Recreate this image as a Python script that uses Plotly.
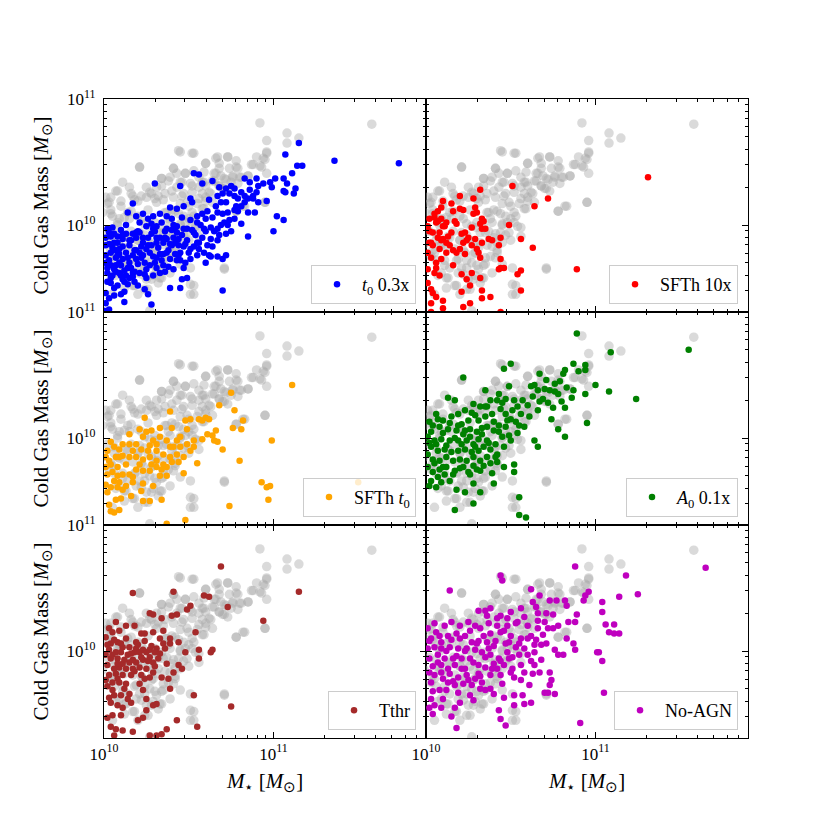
import plotly.graph_objects as go
from plotly.subplots import make_subplots

# (log10 M_star, log10 M_cold) pairs

# reference run (grey circles, repeated in every panel)
reference = [
    (10.92, 10.81), (11.58, 10.80), (11.08, 10.73), (11.15, 10.69), (10.96, 10.67),
    (11.08, 10.65), (10.44, 10.59), (10.53, 10.57), (10.21, 10.46), (10.66, 10.53),
    (10.73, 10.54), (10.68, 10.49), (10.90, 10.54), (10.95, 10.52), (10.96, 10.57),
    (10.88, 10.48), (10.93, 10.46), (10.96, 10.41), (10.60, 10.49), (10.78, 10.46),
    (10.85, 10.39), (10.80, 10.38), (10.76, 10.39), (10.75, 10.34), (10.68, 10.31),
    (10.69, 10.39), (10.66, 10.41), (10.64, 10.35), (10.58, 10.34), (10.56, 10.38),
    (10.48, 10.41), (10.43, 10.41), (10.41, 10.45), (10.39, 10.38), (10.34, 10.37),
    (10.34, 10.31), (10.45, 10.34), (10.52, 10.31), (10.46, 10.23), (10.40, 10.27),
    (10.32, 10.23), (10.27, 10.26), (10.22, 10.23), (10.17, 10.23), (10.08, 10.27),
    (10.03, 10.18), (10.49, 10.18), (10.56, 10.21), (10.60, 10.22), (10.64, 10.18),
    (10.82, 10.15), (10.78, 10.11), (10.95, 10.18), (10.58, 10.13), (10.52, 10.10),
    (10.44, 10.09), (10.36, 10.10), (10.31, 10.18), (10.48, 10.02), (10.54, 9.99),
    (10.44, 9.94), (10.40, 9.90), (10.36, 9.84), (10.42, 9.86), (10.32, 9.86),
    (10.29, 9.78), (10.23, 9.78), (10.19, 9.73), (10.17, 9.81), (10.13, 9.91),
    (10.09, 9.84), (10.05, 9.78), (10.11, 9.72), (10.21, 9.66), (10.27, 9.70),
    (10.31, 9.65), (10.34, 9.58), (10.32, 9.54), (10.25, 9.57), (10.26, 9.49),
    (10.17, 9.52), (10.13, 9.58), (10.09, 9.62), (10.71, 9.65), (10.53, 9.52),
    (10.51, 9.45), (10.27, 9.32), (10.34, 9.99), (10.38, 10.05), (10.27, 9.99),
    (10.21, 9.94), (10.15, 10.05), (10.09, 10.05), (10.05, 10.07), (10.56, 9.91),
    (10.60, 10.31), (10.62, 10.26), (10.71, 10.29), (10.72, 10.36),
    (10.02, 9.95), (10.04, 10.12), (10.06, 9.88), (10.08, 10.00), (10.10, 10.15),
    (10.12, 9.82), (10.14, 10.10), (10.16, 9.95), (10.18, 10.20), (10.20, 9.88),
    (10.22, 10.05), (10.24, 9.92), (10.26, 10.12), (10.28, 9.85), (10.30, 10.02),
    (10.32, 9.94), (10.11, 9.68), (10.19, 9.62), (10.24, 9.72), (10.29, 9.60),
    (10.34, 9.68), (10.38, 9.75), (10.42, 9.80), (10.03, 9.75), (10.07, 9.60),
    (10.01, 10.22), (10.15, 10.30), (10.25, 10.30), (10.35, 10.20), (10.37, 9.95),
    (10.40, 10.12), (10.45, 10.00), (10.50, 10.05), (10.47, 9.92), (10.12, 9.50),
    (10.20, 9.45), (10.05, 9.45), (9.99, 10.10), (9.99, 9.85),
    (10.45, 10.58), (10.52, 10.57), (10.67, 10.54), (10.73, 10.54), (10.60, 10.49),
    (10.78, 10.51), (10.87, 10.48), (10.92, 10.47), (10.96, 10.58), (10.94, 10.53),
    (10.21, 10.46), (10.41, 10.45), (10.48, 10.41), (10.53, 10.43), (10.59, 10.42),
    (10.65, 10.41), (10.68, 10.45), (10.74, 10.45), (10.79, 10.45), (10.81, 10.38),
    (10.85, 10.39), (10.76, 10.38), (10.71, 10.37), (10.65, 10.35), (10.59, 10.34),
    (10.56, 10.30), (10.51, 10.33), (10.46, 10.34), (10.43, 10.30), (10.38, 10.35),
    (10.34, 10.37), (10.31, 10.30), (10.36, 10.25), (10.41, 10.22), (10.47, 10.25),
    (10.52, 10.26), (10.58, 10.25), (10.63, 10.25), (10.68, 10.31), (10.70, 10.29),
    (10.73, 10.27), (10.79, 10.33), (10.83, 10.15), (10.78, 10.11), (10.95, 10.18),
    (10.16, 10.25), (10.10, 10.19), (10.07, 10.27), (10.04, 10.22), (10.20, 10.19),
    (10.25, 10.22), (10.30, 10.21), (10.45, 10.17), (10.50, 10.15), (10.55, 10.17),
    (10.60, 10.19), (10.59, 10.13), (10.53, 10.07), (10.47, 10.07), (10.42, 10.11),
    (10.37, 10.10), (10.39, 10.02), (10.45, 10.01), (10.52, 10.02), (10.56, 9.98),
    (10.49, 9.94), (10.41, 9.93), (10.35, 9.94), (10.30, 9.98), (10.24, 10.01),
    (10.20, 10.07), (10.16, 10.11), (10.12, 10.06), (10.08, 10.02), (10.06, 9.93),
    (10.14, 9.90), (10.20, 9.88), (10.26, 9.88), (10.31, 9.82), (10.39, 9.83),
    (10.45, 9.86), (10.50, 9.88), (10.42, 9.78), (10.35, 9.74), (10.28, 9.77),
    (10.22, 9.80), (10.18, 9.72), (10.24, 9.66), (10.30, 9.68), (10.35, 9.69),
    (10.41, 9.74), (10.45, 9.69), (10.51, 9.66), (10.39, 9.62), (10.33, 9.58),
    (10.28, 9.57), (10.22, 9.61), (10.12, 9.58), (10.14, 9.66), (10.18, 9.52),
    (10.24, 9.49), (10.51, 9.53), (10.53, 9.45), (10.71, 9.66), (10.04, 9.80),
    (10.06, 9.72), (10.08, 9.85), (10.04, 10.09), (10.02, 10.17), (10.11, 10.34),
    (10.28, 10.25),
]

t0_03x = [
    (11.15, 10.65), (11.36, 10.51), (11.74, 10.49), (11.07, 10.56), (11.14, 10.47),
    (11.17, 10.47), (11.11, 10.41), (11.06, 10.37), (11.08, 10.33), (11.13, 10.29),
    (11.06, 10.27), (11.07, 10.26), (11.12, 10.25), (10.98, 10.34), (10.99, 10.30),
    (11.01, 10.37), (10.94, 10.33), (10.83, 10.37), (10.86, 10.34), (10.90, 10.37),
    (10.91, 10.31), (10.90, 10.26), (10.88, 10.21), (10.91, 10.18), (10.88, 10.23),
    (10.85, 10.21), (10.83, 10.23), (10.83, 10.18), (10.79, 10.21), (10.81, 10.15),
    (10.77, 10.23), (10.77, 10.29), (10.74, 10.25), (10.72, 10.29), (10.75, 10.31),
    (10.68, 10.30), (10.67, 10.23), (10.69, 10.18), (10.72, 10.18), (10.64, 10.35),
    (10.58, 10.33), (10.53, 10.41), (10.56, 10.40), (10.45, 10.31), (10.30, 10.33),
    (10.51, 10.21), (10.52, 10.18), (10.47, 10.15), (10.43, 10.13), (10.39, 10.14),
    (10.37, 10.07), (10.33, 10.09), (10.29, 10.07), (10.23, 10.09), (10.19, 10.07),
    (10.14, 10.10), (10.17, 10.17), (10.21, 10.02), (10.25, 9.99), (10.31, 9.99),
    (10.37, 9.97), (10.43, 9.94), (10.49, 9.97), (10.55, 10.02), (10.61, 10.11),
    (10.67, 10.10), (10.73, 10.10), (10.79, 10.11), (10.85, 10.10), (10.89, 10.10),
    (10.96, 10.19), (11.02, 10.07), (11.06, 10.04), (11.00, 9.95), (10.85, 9.91),
    (10.81, 10.01), (10.77, 10.05), (10.71, 10.02), (10.67, 9.97), (10.72, 9.93),
    (10.67, 9.88), (10.63, 9.89), (10.61, 9.84), (10.55, 9.86), (10.51, 9.81),
    (10.48, 9.85), (10.44, 9.89), (10.40, 9.84), (10.35, 9.86), (10.31, 9.90),
    (10.28, 9.84), (10.23, 9.86), (10.19, 9.90), (10.15, 9.84), (10.11, 9.89),
    (10.08, 9.86), (10.04, 9.91), (10.02, 9.97), (10.05, 9.98), (10.01, 9.84),
    (10.04, 9.78), (10.08, 9.76), (10.11, 9.73), (10.15, 9.70), (10.19, 9.73),
    (10.23, 9.76), (10.27, 9.68), (10.31, 9.66), (10.35, 9.68), (10.39, 9.73),
    (10.43, 9.72), (10.47, 9.66), (10.51, 9.73), (10.55, 9.76), (10.59, 9.78),
    (10.63, 9.75), (10.67, 9.75), (10.70, 9.73), (10.72, 9.76), (10.62, 9.76),
    (10.45, 9.78), (10.41, 9.65), (10.29, 9.60), (10.25, 9.58), (10.21, 9.62),
    (10.17, 9.62), (10.13, 9.60), (10.09, 9.62), (10.06, 9.65), (10.02, 9.66),
    (10.04, 9.54), (10.08, 9.52), (10.11, 9.57), (10.15, 9.58), (10.01, 9.46),
    (10.03, 9.42), (10.06, 9.44), (10.01, 9.38), (10.03, 9.33), (10.00, 9.32),
    (10.12, 9.39), (10.28, 9.37), (10.24, 9.49), (10.39, 9.50), (10.45, 9.50),
    (10.49, 9.58), (10.46, 9.57), (10.70, 9.48), (10.28, 10.01), (10.34, 10.02),
    (10.40, 10.05), (10.46, 10.06), (10.59, 9.97), (10.53, 9.94), (10.43, 9.99),
    (10.37, 9.89), (10.21, 9.94), (10.25, 9.81), (10.17, 9.76), (10.09, 9.81),
    (10.07, 9.68), (10.10, 9.68), (10.33, 9.77), (10.37, 9.78), (10.42, 9.77),
    (10.50, 9.78), (10.56, 9.81), (10.44, 9.84), (10.64, 10.06), (10.58, 10.09),
    (10.55, 10.07), (10.03, 9.72), (10.05, 9.60), (10.07, 9.80), (10.09, 9.70),
    (10.12, 9.64), (10.13, 9.78), (10.16, 9.66), (10.18, 9.80), (10.20, 9.69),
    (10.22, 9.83), (10.24, 9.70), (10.26, 9.90), (10.29, 9.75), (10.32, 9.82),
    (10.34, 9.72), (10.36, 9.95), (10.38, 9.80), (10.41, 9.90), (10.42, 9.98),
    (10.46, 9.92), (10.02, 9.55), (10.06, 9.50), (10.10, 9.45), (10.14, 9.53),
    (10.18, 9.55), (10.01, 9.90), (10.06, 9.93), (10.10, 9.96), (10.13, 10.00),
    (10.17, 9.93), (10.26, 10.05), (10.30, 9.95), (10.48, 9.70), (10.53, 9.83),
    (10.58, 9.90), (10.60, 9.70), (10.65, 9.95), (10.69, 10.00), (10.75, 9.95),
    (10.62, 10.20), (10.70, 10.25),
    (10.02, 9.62), (10.04, 9.68), (10.05, 9.82), (10.07, 9.74), (10.08, 9.91),
    (10.10, 9.60), (10.11, 9.83), (10.13, 9.93), (10.14, 9.66), (10.16, 9.88),
    (10.17, 9.59), (10.19, 9.80), (10.20, 9.95), (10.22, 9.74), (10.23, 9.90),
    (10.25, 9.65), (10.27, 9.78), (10.28, 9.93), (10.30, 9.70), (10.31, 9.86),
    (10.33, 9.62), (10.35, 9.77), (10.36, 9.90), (10.38, 9.67), (10.40, 9.96),
    (10.42, 9.86), (10.44, 9.76), (10.47, 9.97), (10.49, 9.88), (10.51, 10.04),
    (10.54, 9.92), (10.57, 10.00), (10.60, 10.05), (10.63, 9.98), (10.66, 10.15),
    (10.70, 10.09), (10.74, 10.04), (10.78, 10.15), (10.81, 10.26), (10.86, 10.28),
    (10.01, 9.70), (10.03, 9.85), (10.12, 9.47), (10.20, 9.52), (10.26, 9.45),
    (10.01, 9.76), (10.03, 9.94), (10.04, 9.58), (10.06, 9.86), (10.07, 9.63),
    (10.09, 9.77), (10.11, 9.92), (10.12, 9.55), (10.14, 9.74), (10.15, 9.88),
    (10.18, 9.63), (10.19, 9.94), (10.21, 9.78), (10.24, 9.61), (10.26, 9.84),
    (10.29, 9.97), (10.31, 9.74), (10.33, 9.90), (10.36, 9.63), (10.39, 9.85),
    (10.41, 10.00), (10.45, 9.72), (10.47, 9.83), (10.52, 9.96), (10.56, 9.86),
    (10.60, 9.95), (10.64, 9.83), (10.68, 9.92), (10.73, 10.00), (10.77, 10.12),
]

sfth_10x = [
    (11.31, 10.38), (10.51, 10.31), (10.72, 10.21), (10.64, 10.15), (10.49, 10.00),
    (10.56, 9.89), (10.63, 9.82), (10.89, 9.65), (10.32, 10.28), (10.28, 10.21),
    (10.20, 10.23), (10.10, 10.19), (10.05, 10.09), (10.02, 10.05), (10.01, 9.99),
    (10.04, 9.94), (10.07, 10.03), (10.09, 10.05), (10.10, 9.99), (10.12, 10.02),
    (10.17, 10.03), (10.18, 10.01), (10.16, 10.11), (10.20, 10.13), (10.22, 10.12),
    (10.29, 10.14), (10.30, 10.10), (10.28, 10.09), (10.33, 10.05), (10.34, 10.03),
    (10.33, 9.97), (10.35, 9.97), (10.32, 10.01), (10.23, 9.94), (10.25, 9.90),
    (10.21, 9.93), (10.22, 9.86), (10.15, 9.94), (10.13, 9.91), (10.12, 9.86),
    (10.09, 9.88), (10.08, 9.81), (10.04, 9.84), (10.02, 9.86), (10.01, 9.78),
    (10.03, 9.74), (10.06, 9.70), (10.09, 9.73), (10.12, 9.78), (10.16, 9.80),
    (10.18, 9.78), (10.23, 9.77), (10.27, 9.84), (10.30, 9.81), (10.32, 9.74),
    (10.33, 9.86), (10.37, 9.89), (10.39, 9.88), (10.44, 9.90), (10.44, 9.73),
    (10.43, 9.84), (10.44, 9.66), (10.46, 9.66), (10.43, 9.65), (10.54, 9.61),
    (10.56, 9.64), (10.56, 9.48), (10.31, 9.78), (10.29, 9.89), (10.27, 9.98),
    (10.24, 9.88), (10.10, 9.89), (10.16, 9.68), (10.21, 9.61), (10.24, 9.57),
    (10.32, 9.58), (10.33, 9.48), (10.33, 9.42), (10.38, 9.43), (10.26, 9.38),
    (10.22, 9.35), (10.21, 9.47), (10.10, 9.40), (10.10, 9.34), (10.06, 9.43),
    (10.04, 9.46), (10.03, 9.38), (10.03, 9.31), (10.05, 9.62), (10.08, 9.60),
    (10.06, 9.66), (10.01, 9.65), (10.01, 9.54), (10.03, 9.49), (10.03, 9.86),
    (10.06, 10.02), (10.15, 10.17), (10.09, 10.14), (10.07, 10.11), (10.05, 10.06),
    (10.08, 9.94), (10.07, 9.90), (10.14, 9.84), (10.20, 9.81), (10.11, 9.99),
    (10.02, 9.95), (10.44, 9.31), (10.26, 9.52), (10.27, 9.62),
]

sfth_t0 = [
    (11.11, 10.42), (10.75, 10.36), (10.68, 10.26), (10.77, 10.22), (10.39, 10.21),
    (10.24, 10.16), (10.60, 10.16), (10.58, 10.14), (10.62, 10.15), (10.56, 10.15),
    (10.51, 10.15), (10.48, 10.14), (10.49, 10.07), (10.40, 10.08), (10.33, 10.08),
    (10.28, 10.06), (10.21, 10.07), (10.15, 10.03), (10.25, 10.05), (10.23, 10.01),
    (10.29, 9.98), (10.33, 10.01), (10.37, 9.98), (10.43, 9.98), (10.39, 9.93),
    (10.45, 9.93), (10.49, 9.95), (10.53, 9.98), (10.53, 9.93), (10.58, 9.99),
    (10.64, 10.02), (10.66, 10.06), (10.65, 9.98), (10.67, 9.97), (10.76, 10.08),
    (10.81, 10.07), (10.82, 10.14), (10.99, 9.98), (10.70, 9.91), (10.80, 9.82),
    (10.55, 9.80), (10.47, 9.85), (10.44, 9.81), (10.40, 9.81), (10.35, 9.87),
    (10.31, 9.90), (10.27, 9.94), (10.19, 9.95), (10.15, 9.95), (10.11, 9.95),
    (10.09, 9.91), (10.06, 9.93), (10.04, 9.97), (10.02, 9.90), (10.07, 9.85),
    (10.11, 9.86), (10.15, 9.85), (10.19, 9.85), (10.23, 9.83), (10.27, 9.85),
    (10.31, 9.82), (10.35, 9.79), (10.39, 9.85), (10.43, 9.87), (10.34, 9.75),
    (10.31, 9.77), (10.27, 9.74), (10.23, 9.74), (10.19, 9.75), (10.15, 9.71),
    (10.11, 9.71), (10.08, 9.77), (10.04, 9.79), (10.01, 9.77), (10.02, 9.71),
    (10.06, 9.66), (10.09, 9.65), (10.13, 9.62), (10.17, 9.65), (10.23, 9.64),
    (10.29, 9.62), (10.33, 9.70), (10.37, 9.70), (10.22, 9.58), (10.16, 9.54),
    (10.11, 9.59), (10.08, 9.61), (10.04, 9.61), (10.01, 9.63), (10.02, 9.57),
    (10.07, 9.51), (10.10, 9.52), (10.03, 9.47), (10.04, 9.42), (10.06, 9.41),
    (10.09, 9.43), (10.23, 9.50), (10.27, 9.50), (10.34, 9.51), (10.47, 9.72),
    (10.37, 9.32), (10.48, 9.35), (10.74, 9.46), (10.93, 9.65), (10.96, 9.61),
    (10.98, 9.62), (10.97, 9.51), (11.50, 9.65), (10.01, 9.85), (10.03, 9.82),
    (10.13, 9.79), (10.21, 9.79), (10.28, 9.79), (10.37, 9.77), (10.41, 9.93),
    (10.45, 10.01), (10.51, 9.90), (10.61, 10.03), (10.17, 9.90), (10.26, 9.90),
    (10.31, 9.95), (10.22, 9.91), (10.09, 9.85), (10.05, 9.73), (10.08, 9.70),
    (10.17, 9.69),
]

a0_01x = [
    (10.89, 10.83), (11.55, 10.70), (11.09, 10.68), (10.50, 10.59), (10.46, 10.55),
    (10.22, 10.48), (10.87, 10.59), (10.94, 10.58), (10.94, 10.54), (10.90, 10.53),
    (10.82, 10.54), (10.81, 10.51), (10.79, 10.45), (10.76, 10.43), (10.71, 10.46),
    (10.67, 10.51), (10.64, 10.42), (10.62, 10.41), (10.66, 10.38), (10.70, 10.39),
    (10.73, 10.38), (10.78, 10.35), (10.83, 10.40), (10.87, 10.38), (10.86, 10.32),
    (10.94, 10.35), (11.00, 10.42), (11.08, 10.37), (11.24, 10.31), (10.95, 10.12),
    (10.82, 10.01), (10.78, 10.07), (10.74, 10.15), (10.75, 10.24), (10.80, 10.29),
    (10.82, 10.24), (10.67, 10.29), (10.61, 10.17), (10.56, 10.19), (10.54, 10.25),
    (10.52, 10.30), (10.47, 10.31), (10.43, 10.35), (10.49, 10.41), (10.35, 10.38),
    (10.38, 10.30), (10.42, 10.30), (10.36, 10.25), (10.32, 10.25), (10.28, 10.27),
    (10.23, 10.22), (10.17, 10.30), (10.13, 10.32), (10.06, 10.19), (10.02, 10.13),
    (10.10, 10.14), (10.15, 10.17), (10.19, 10.19), (10.21, 10.11), (10.25, 10.14),
    (10.29, 10.18), (10.31, 10.14), (10.35, 10.17), (10.39, 10.19), (10.44, 10.23),
    (10.47, 10.19), (10.50, 10.15), (10.53, 10.13), (10.58, 10.09), (10.47, 10.09),
    (10.43, 10.10), (10.40, 10.06), (10.36, 10.09), (10.33, 10.03), (10.30, 10.05),
    (10.26, 10.07), (10.22, 10.03), (10.18, 10.06), (10.13, 10.07), (10.08, 10.09),
    (10.03, 10.05), (10.01, 10.01), (10.05, 9.98), (10.09, 9.99), (10.14, 9.98),
    (10.19, 9.98), (10.24, 9.98), (10.28, 9.95), (10.31, 9.99), (10.36, 9.98),
    (10.41, 9.95), (10.45, 10.01), (10.49, 10.02), (10.54, 10.04), (10.50, 9.98),
    (10.46, 9.93), (10.42, 9.87), (10.38, 9.91), (10.34, 9.93), (10.31, 9.90),
    (10.27, 9.89), (10.23, 9.91), (10.19, 9.90), (10.15, 9.89), (10.11, 9.91),
    (10.07, 9.90), (10.03, 9.93), (10.01, 9.87), (10.04, 9.83), (10.08, 9.82),
    (10.12, 9.85), (10.16, 9.82), (10.20, 9.83), (10.24, 9.82), (10.28, 9.85),
    (10.32, 9.82), (10.36, 9.85), (10.41, 9.85), (10.38, 9.80), (10.34, 9.78),
    (10.30, 9.75), (10.25, 9.73), (10.22, 9.77), (10.17, 9.74), (10.12, 9.77),
    (10.08, 9.75), (10.04, 9.73), (10.01, 9.77), (10.03, 9.66), (10.07, 9.69),
    (10.11, 9.71), (10.16, 9.71), (10.26, 9.71), (10.32, 9.74), (10.39, 9.72),
    (10.46, 9.77), (10.52, 9.79), (10.52, 9.73), (10.64, 9.98), (10.66, 9.93),
    (10.28, 9.64), (10.23, 9.57), (10.18, 9.59), (10.32, 9.57), (10.40, 9.64),
    (10.55, 9.53), (10.28, 9.48), (10.17, 9.43), (10.55, 9.39), (10.59, 9.37),
    (10.06, 9.61), (10.02, 9.62), (10.09, 9.65), (10.42, 9.81),
    (10.02, 9.96), (10.04, 10.10), (10.06, 9.95), (10.07, 10.15), (10.10, 10.04),
    (10.12, 9.94), (10.14, 10.12), (10.17, 10.00), (10.19, 10.10), (10.21, 9.95),
    (10.23, 10.06), (10.26, 10.01), (10.27, 10.20), (10.29, 9.93), (10.33, 10.08),
    (10.35, 10.25), (10.37, 9.96), (10.40, 10.13), (10.43, 10.05), (10.45, 10.28),
    (10.48, 10.14), (10.51, 10.22), (10.55, 10.10), (10.57, 10.30), (10.60, 10.26),
    (10.63, 10.33), (10.66, 10.22), (10.69, 10.31), (10.72, 10.28), (10.76, 10.37),
    (10.05, 9.80), (10.10, 9.77), (10.14, 9.66), (10.20, 9.76), (10.28, 9.78),
]

tthr = [
    (10.69, 10.67), (11.15, 10.47), (10.17, 10.46), (10.41, 10.47), (10.59, 10.44),
    (10.62, 10.43), (10.73, 10.35), (10.94, 10.24), (10.49, 10.33), (10.51, 10.36),
    (10.43, 10.29), (10.40, 10.28), (10.27, 10.30), (10.29, 10.29), (10.34, 10.26),
    (10.07, 10.23), (10.03, 10.18), (10.05, 10.15), (10.09, 10.16), (10.13, 10.20),
    (10.18, 10.20), (10.22, 10.14), (10.24, 10.14), (10.29, 10.15), (10.33, 10.10),
    (10.35, 10.16), (10.54, 10.15), (10.44, 10.07), (10.39, 10.06), (10.35, 10.06),
    (10.31, 10.02), (10.27, 10.01), (10.23, 10.01), (10.19, 10.02), (10.15, 10.03),
    (10.11, 10.03), (10.08, 10.07), (10.04, 10.06), (10.03, 10.01), (10.07, 9.99),
    (10.10, 9.99), (10.14, 9.97), (10.18, 9.99), (10.21, 9.99), (10.25, 9.99),
    (10.30, 9.99), (10.32, 9.94), (10.27, 9.95), (10.23, 9.93), (10.19, 9.91),
    (10.15, 9.91), (10.11, 9.90), (10.08, 9.94), (10.04, 9.94), (10.02, 9.89),
    (10.06, 9.86), (10.09, 9.87), (10.13, 9.86), (10.17, 9.86), (10.21, 9.87),
    (10.25, 9.86), (10.29, 9.83), (10.34, 9.79), (10.38, 9.78), (10.27, 9.79),
    (10.22, 9.81), (10.16, 9.81), (10.11, 9.81), (10.07, 9.82), (10.03, 9.81),
    (10.01, 9.77), (10.05, 9.75), (10.09, 9.75), (10.13, 9.74), (10.21, 9.74),
    (10.23, 9.69), (10.15, 9.66), (10.10, 9.65), (10.06, 9.65), (10.03, 9.63),
    (10.04, 9.59), (10.08, 9.57), (10.11, 9.55), (10.16, 9.59), (10.25, 9.62),
    (10.29, 9.57), (10.31, 9.58), (10.25, 9.53), (10.20, 9.45), (10.23, 9.47),
    (10.10, 9.49), (10.05, 9.49), (10.02, 9.47), (10.04, 9.40), (10.07, 9.38),
    (10.11, 9.37), (10.17, 9.36), (10.06, 9.33), (10.27, 9.33), (10.31, 9.33),
    (10.34, 9.34), (10.37, 9.38), (10.43, 9.45), (10.55, 9.40), (10.53, 9.65),
    (10.39, 9.70), (10.46, 9.86), (10.44, 9.89), (10.48, 9.99), (10.56, 10.01),
    (10.56, 9.94), (10.63, 9.99), (10.64, 10.01), (10.75, 9.56), (10.39, 10.10),
    (10.29, 9.91), (10.37, 9.90), (10.41, 9.83), (10.19, 10.07), (10.01, 10.11),
    (10.01, 9.97),
    (10.02, 10.05), (10.05, 9.97), (10.06, 10.09), (10.08, 9.90), (10.10, 10.06),
    (10.12, 9.93), (10.13, 10.10), (10.16, 9.98), (10.17, 9.93), (10.20, 10.05),
    (10.22, 9.95), (10.24, 10.08), (10.26, 9.92), (10.28, 10.04), (10.30, 9.88),
    (10.02, 9.72), (10.05, 9.69), (10.08, 9.78), (10.12, 9.70), (10.14, 9.62),
    (10.18, 9.84), (10.24, 9.78), (10.33, 9.98), (10.36, 10.02),
]

no_agn = [
    (11.65, 10.66), (10.88, 10.67), (11.18, 10.60), (11.25, 10.45), (11.14, 10.43),
    (11.04, 10.39), (11.04, 10.31), (10.44, 10.60), (10.45, 10.56), (10.14, 10.48),
    (10.62, 10.49), (10.67, 10.44), (10.73, 10.40), (10.77, 10.40), (10.82, 10.40),
    (10.83, 10.36), (10.93, 10.40), (10.96, 10.47), (10.94, 10.44), (10.89, 10.29),
    (10.88, 10.23), (10.84, 10.23), (11.06, 10.21), (11.11, 10.21), (11.08, 10.15),
    (11.11, 10.14), (11.14, 10.14), (11.01, 9.99), (11.02, 9.99), (11.04, 9.92),
    (11.05, 9.67), (10.91, 9.43), (10.88, 10.01), (10.87, 10.06), (10.83, 10.10),
    (10.81, 9.97), (10.78, 9.97), (10.76, 10.01), (10.75, 10.18), (10.78, 10.20),
    (10.72, 10.18), (10.70, 10.23), (10.66, 10.18), (10.66, 10.30), (10.63, 10.39),
    (10.65, 10.35), (10.71, 10.30), (10.75, 10.29), (10.56, 10.34), (10.50, 10.31),
    (10.48, 10.26), (10.44, 10.28), (10.38, 10.34), (10.35, 10.32), (10.31, 10.32),
    (10.36, 10.28), (10.42, 10.20), (10.48, 10.20), (10.54, 10.23), (10.60, 10.20),
    (10.62, 10.12), (10.56, 10.10), (10.50, 10.12), (10.44, 10.15), (10.38, 10.14),
    (10.32, 10.18), (10.29, 10.20), (10.25, 10.23), (10.20, 10.20), (10.15, 10.23),
    (10.11, 10.20), (10.05, 10.22), (10.01, 10.18), (10.03, 10.10), (10.08, 10.12),
    (10.13, 10.12), (10.18, 10.14), (10.23, 10.12), (10.27, 10.07), (10.31, 10.08),
    (10.36, 10.07), (10.41, 10.08), (10.47, 10.06), (10.53, 10.03), (10.58, 10.02),
    (10.64, 10.05), (10.68, 10.05), (10.71, 10.06), (10.60, 9.97), (10.55, 9.97),
    (10.49, 9.94), (10.43, 9.94), (10.38, 9.97), (10.33, 9.99), (10.29, 10.01),
    (10.24, 10.02), (10.19, 10.02), (10.14, 10.03), (10.09, 10.02), (10.05, 10.03),
    (10.01, 10.02), (10.02, 9.94), (10.07, 9.91), (10.11, 9.94), (10.16, 9.94),
    (10.21, 9.94), (10.26, 9.94), (10.31, 9.89), (10.35, 9.87), (10.40, 9.90),
    (10.46, 9.89), (10.51, 9.86), (10.56, 9.89), (10.64, 9.89), (10.68, 9.93),
    (10.63, 9.82), (10.67, 9.83), (10.73, 9.83), (10.74, 9.77), (10.73, 9.73),
    (10.70, 9.67), (10.72, 9.67), (10.76, 9.66), (10.61, 9.73), (10.56, 9.77),
    (10.52, 9.79), (10.50, 9.83), (10.44, 9.81), (10.45, 9.74), (10.38, 9.81),
    (10.38, 9.70), (10.33, 9.75), (10.29, 9.78), (10.24, 9.81), (10.19, 9.79),
    (10.14, 9.82), (10.09, 9.83), (10.05, 9.81), (10.02, 9.83), (10.03, 9.75),
    (10.08, 9.69), (10.12, 9.69), (10.17, 9.73), (10.22, 9.74), (10.27, 9.73),
    (10.32, 9.70), (10.35, 9.69), (10.40, 9.66), (10.46, 9.63), (10.52, 9.65),
    (10.57, 9.65), (10.52, 9.57), (10.58, 9.58), (10.62, 9.59), (10.28, 9.61),
    (10.20, 9.59), (10.17, 9.55), (10.09, 9.55), (10.05, 9.57), (10.03, 9.62),
    (10.02, 9.55), (10.04, 9.50), (10.15, 9.48), (10.18, 9.39), (10.43, 9.53),
    (10.44, 9.46), (10.47, 9.41), (10.65, 10.09), (10.37, 10.02), (10.23, 9.86),
    (10.31, 9.82), (10.17, 9.89), (10.09, 9.89), (10.13, 9.75), (10.42, 9.86),
    (10.48, 9.99), (10.64, 9.99), (10.58, 9.83),
    (10.02, 10.08), (10.04, 9.88), (10.06, 10.15), (10.07, 9.97), (10.09, 10.07),
    (10.10, 9.78), (10.12, 10.00), (10.13, 9.86), (10.15, 10.09), (10.16, 9.76),
    (10.18, 9.96), (10.20, 10.10), (10.21, 9.86), (10.23, 10.00), (10.25, 9.77),
    (10.26, 10.16), (10.28, 9.91), (10.30, 10.06), (10.32, 9.80), (10.34, 10.12),
    (10.35, 9.95), (10.37, 10.22), (10.39, 9.86), (10.40, 10.04), (10.42, 10.26),
    (10.44, 9.92), (10.46, 10.16), (10.49, 10.07), (10.51, 9.95), (10.53, 10.22),
    (10.55, 10.06), (10.58, 10.27), (10.60, 10.10), (10.62, 9.92), (10.66, 10.24),
    (10.69, 10.13), (10.04, 9.68), (10.10, 9.62), (10.19, 9.67), (10.26, 9.65),
]

panels = [
    (t0_03x, "blue", "<i>t</i><sub>0</sub> 0.3x"),
    (sfth_10x, "red", "SFTh 10x"),
    (sfth_t0, "orange", "SFTh <i>t</i><sub>0</sub>"),
    (a0_01x, "green", "<i>A</i><sub>0</sub> 0.1x"),
    (tthr, "brown", "Tthr"),
    (no_agn, "#bf00bf", "No-AGN"),
]

serif = "Liberation Serif"

fig = make_subplots(
    rows=3, cols=2, shared_xaxes=True, shared_yaxes=True,
    horizontal_spacing=0, vertical_spacing=0,
)

ref_x = [10 ** m for m, g in reference]
ref_y = [10 ** g for m, g in reference]

legend_x = {1: 0.4845, 2: 0.9845}
legend_y = {1: 0.679, 2: 0.346, 3: 0.0125}

for i, (data, color, name) in enumerate(panels):
    row, col = i // 2 + 1, i % 2 + 1
    leg = "legend" if i == 0 else f"legend{i + 1}"

    fig.add_trace(
        go.Scatter(
            x=ref_x, y=ref_y, mode="markers", showlegend=False,
            marker=dict(size=9.5, color="darkgray", opacity=0.43, line=dict(width=0)),
            hoverinfo="skip",
        ),
        row=row, col=col,
    )
    fig.add_trace(
        go.Scatter(
            x=[10 ** m for m, g in data], y=[10 ** g for m, g in data],
            mode="markers", name=name, legend=leg,
            marker=dict(size=6.5, color=color, line=dict(width=0)),
        ),
        row=row, col=col,
    )
    fig.update_layout({
        leg: dict(
            x=legend_x[col], y=legend_y[row], xanchor="right", yanchor="bottom",
            bgcolor="rgba(255,255,255,0.8)", bordercolor="#cccccc", borderwidth=1,
            font=dict(family=serif, size=18, color="black"),
            itemwidth=40,
        )
    })

x_minor = [k * 1e10 for k in range(2, 10)] + [k * 1e11 for k in range(2, 8)]
y_minor = [k * 1e9 for k in range(3, 10)] + [k * 1e10 for k in range(2, 10)]
sup = "10<sup>%d</sup>"

fig.update_xaxes(
    type="log", range=[10, 11.9],
    tickvals=[1e10, 1e11], ticktext=[sup % 10, sup % 11],
    ticks="inside", ticklen=6, tickwidth=1, tickcolor="black",
    minor=dict(tickvals=x_minor, ticks="inside", ticklen=3, tickwidth=1,
               tickcolor="black", showgrid=False),
    showline=True, linecolor="black", linewidth=1.2, mirror="allticks",
    showgrid=False, zeroline=False,
    tickfont=dict(family=serif, size=17, color="black"),
)
fig.update_yaxes(
    type="log", range=[9.31, 11],
    tickvals=[1e10, 1e11], ticktext=[sup % 10, sup % 11],
    ticks="inside", ticklen=6, tickwidth=1, tickcolor="black",
    minor=dict(tickvals=y_minor, ticks="inside", ticklen=3, tickwidth=1,
               tickcolor="black", showgrid=False),
    showline=True, linecolor="black", linewidth=1.2, mirror="allticks",
    showgrid=False, zeroline=False, ticklabelstandoff=4,
    tickfont=dict(family=serif, size=17, color="black"),
)

x_title = "<i>M</i><sub>⋆</sub> [<i>M</i><sub>⊙</sub>]"
y_title = "Cold Gas Mass [<i>M</i><sub>⊙</sub>]"
for c in (1, 2):
    fig.update_xaxes(title=dict(text=x_title, font=dict(family=serif, size=21), standoff=10),
                     row=3, col=c)
for r in (1, 2, 3):
    fig.update_yaxes(title=dict(text=y_title, font=dict(family=serif, size=21), standoff=12),
                     row=r, col=1)

fig.update_layout(
    width=830, height=830,
    margin=dict(l=96, r=90, t=91, b=100),
    paper_bgcolor="white", plot_bgcolor="white",
    font=dict(family=serif, color="black"),
)

fig.write_html("out.html")
